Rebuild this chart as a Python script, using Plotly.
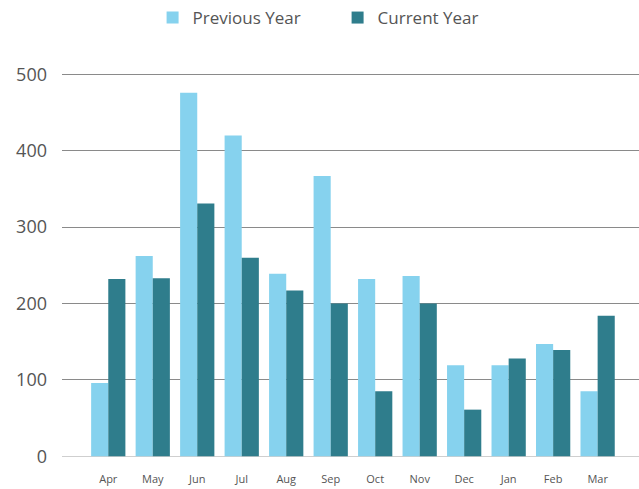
import plotly.graph_objects as go

months = ["Apr", "May", "Jun", "Jul", "Aug", "Sep", "Oct", "Nov", "Dec", "Jan", "Feb", "Mar"]
previous_year = [96, 262, 476, 420, 239, 367, 232, 236, 119, 119, 147, 85]
current_year = [232, 233, 331, 260, 217, 200, 85, 200, 61, 128, 139, 184]
y_ticks = [0, 100, 200, 300, 400, 500]

fig = go.Figure()
fig.add_trace(go.Bar(name="Previous Year", x=months, y=previous_year,
                     marker=dict(color="#86d2ee", line=dict(width=0))))
fig.add_trace(go.Bar(name="Current Year", x=months, y=current_year,
                     marker=dict(color="#2f7d8c", line=dict(width=0))))

fig.update_layout(
    width=639, height=489,
    paper_bgcolor="white", plot_bgcolor="white",
    margin=dict(l=62, r=0, t=72, b=32, autoexpand=False),
    barmode="group", bargap=0.23, bargroupgap=0,
    font=dict(family="Open Sans, sans-serif", color="#555555"),
    legend=dict(orientation="h", x=0.157, xanchor="left", y=1 - 18 / 489, yanchor="middle",
                yref="container", font=dict(size=17, color="#555555"),
                itemwidth=30, entrywidth=140, entrywidthmode="pixels", traceorder="normal"),
    xaxis=dict(range=[-1.04, 11.93], showgrid=False, zeroline=False, showline=False,
               ticks="", tickfont=dict(size=11, color="#555555"), ticklabelstandoff=14),
    yaxis=dict(range=[-1, 503], tickvals=y_ticks, showgrid=True, gridcolor="#8a8a8a",
               gridwidth=1, zeroline=True, zerolinecolor="#cfcfcf", zerolinewidth=1,
               showline=False, ticks="",
               tickfont=dict(size=18, color="#555555"), ticklabelstandoff=14),
)
fig.write_html("out.html", config={"displayModeBar": False},
               post_script="document.body.style.margin='0';")
